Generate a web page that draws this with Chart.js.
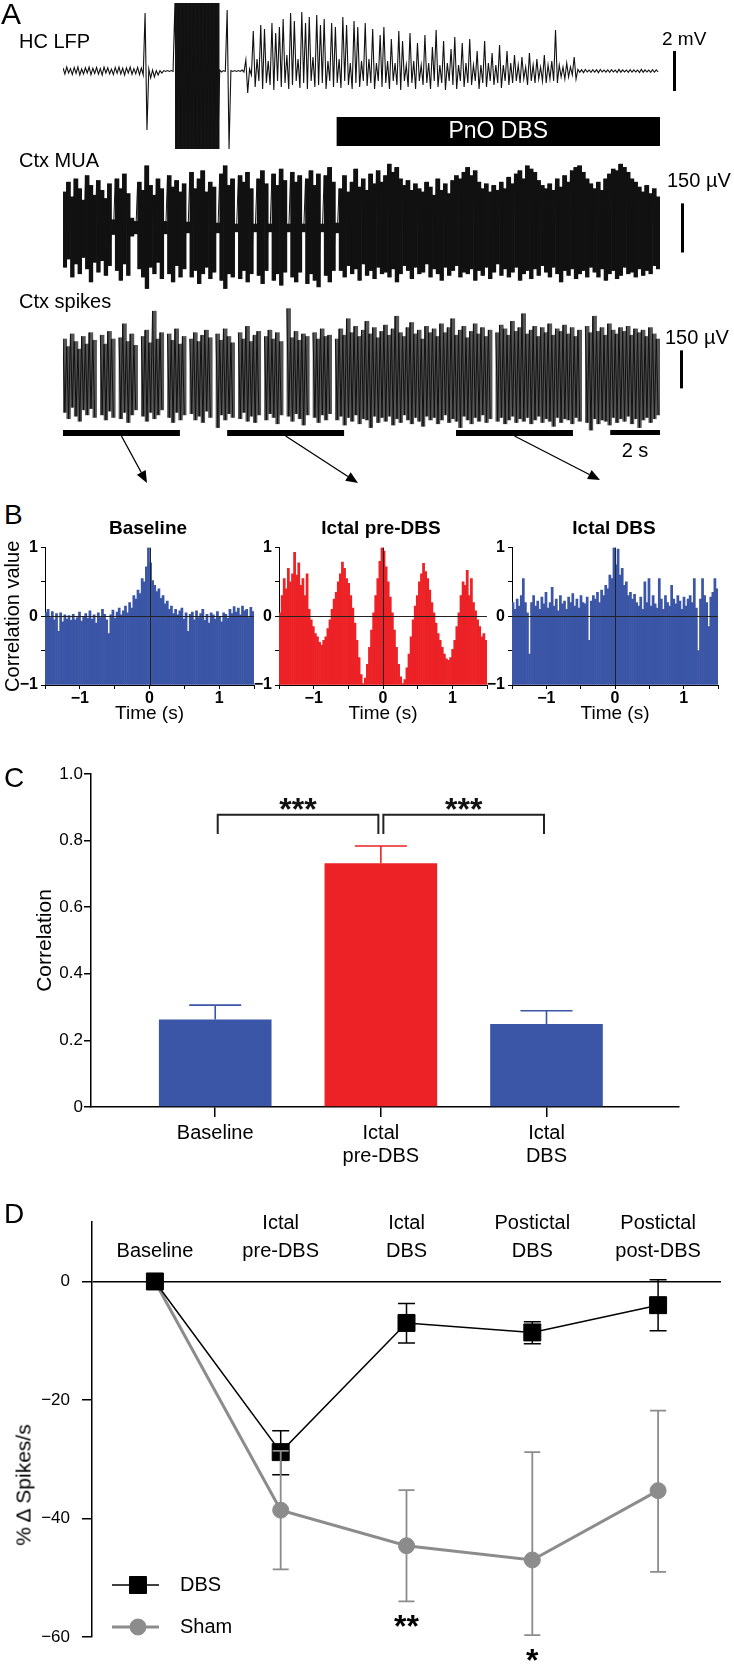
<!DOCTYPE html>
<html>
<head>
<meta charset="utf-8">
<script src="https://cdn.jsdelivr.net/npm/chart.js@4.4.0/dist/chart.umd.min.js"></script>
<style>
  html, body { margin: 0; padding: 0; background: #fff; }
  #fig { position: relative; width: 734px; height: 1664px; overflow: hidden; background: #fff;
         font-family: "Liberation Sans", Arial, sans-serif; color: #000; }
  #fig canvas { position: absolute; }
  .t { position: absolute; line-height: 1; white-space: nowrap; }
</style>
</head>
<body>
<div id="fig">
  <canvas id="lfp" width="734" height="152" style="left:0;top:0"></canvas>
  <canvas id="mua" width="734" height="150" style="left:0;top:150px"></canvas>
  <canvas id="spk" width="734" height="190" style="left:0;top:300px"></canvas>
  <canvas id="cc1" width="262" height="200" style="left:0;top:535px"></canvas>
  <canvas id="cc2" width="250" height="200" style="left:245px;top:535px"></canvas>
  <canvas id="cc3" width="250" height="200" style="left:478px;top:535px"></canvas>
  <canvas id="corr" width="734" height="420" style="left:0;top:760px"></canvas>
  <canvas id="rate" width="734" height="464" style="left:0;top:1200px"></canvas>
</div>
<script>
const FONT = '"Liberation Sans", Arial, sans-serif';
const NARROW = '"Liberation Sans Narrow", "Liberation Sans", Arial, sans-serif';

// ---------- A: example traces, envelope per 0.15 s bin ----------
const traceBin = 0.15;
const traceSeconds = 24;
const dbsPeriod = [11, 24];
const corrWindows = [[0, 4.7], [6.6, 11.3], [15.8, 20.5]];
const arrowTips = [[147, 483], [358, 483], [600, 480]];

// HC LFP, mV
const lfpHi = [0.15,0.2,0.12,0.18,0.2,0.1,0.16,0.2,0.14,0.18,0.12,0.2,0.16,0.1,0.18,0.2,0.14,0.16,0.2,0.12,0.18,0.15,
  2.9,
  0.1,0.05,0.02,0.02,0.02,0.02,0.02,
  3.4,3.4,3.4,3.4,3.4,3.4,3.4,3.4,3.4,3.4,3.4,3.4,
  0.05,0.02,
  3.05,
  0.02,0.02,0.02,0.05,
  0.55,
  0.1,
  2.0,0.6,2.3,2.1,0.5,2.4,1.9,2.2,
  2.6,0.8,2.9,2.5,0.6,2.95,2.4,2.7,0.7,2.8,
  2.3,2.6,0.5,2.4,2.2,0.6,2.7,2.3,0.4,2.5,2.2,0.5,2.4,0.6,2.1,
  0.4,1.8,2.2,0.5,1.6,0.4,2.0,1.5,0.3,1.9,0.5,1.4,0.3,
  1.8,0.4,1.2,2.05,0.3,1.5,0.4,1.1,1.7,0.3,1.4,0.4,
  1.6,0.3,1.0,0.3,1.5,0.4,0.9,0.3,1.3,0.3,1.0,0.4,0.8,
  0.3,0.7,0.2,0.9,0.3,0.6,0.2,0.8,0.3,0.5,
  2.05,
  0.3,0.2,0.4,0.2,
  0.7,
  0.08,0.06,0.08,0.05,0.07,0.06,0.08,0.05,0.06,0.07,0.05,0.08,0.06,0.05,0.07,0.06,0.05,0.08,0.06,0.05,0.07,0.06];
const lfpLo = [-0.15,-0.1,-0.18,-0.12,-0.2,-0.15,-0.1,-0.18,-0.12,-0.16,-0.2,-0.1,-0.14,-0.18,-0.12,-0.15,-0.2,-0.1,-0.16,-0.14,-0.18,-0.2,
  -2.95,
  -0.35,-0.3,-0.2,-0.1,-0.02,-0.02,-0.02,
  -3.9,-3.9,-3.9,-3.9,-3.9,-3.9,-3.9,-3.9,-3.9,-3.9,-3.9,-3.9,
  -0.05,-0.02,
  -3.9,
  -0.02,-0.02,-0.02,-0.05,
  -1.1,
  -0.2,
  -0.8,-0.5,-0.9,-0.6,-0.7,-0.95,-0.5,-0.8,
  -0.6,-0.9,-0.7,-0.5,-0.85,-0.6,-0.9,-0.5,-0.8,-0.7,
  -0.6,-0.9,-0.5,-0.8,-0.6,-0.85,-0.5,-0.7,-0.9,-0.6,-0.8,-0.5,-0.75,-0.6,-0.9,
  -0.5,-0.8,-0.6,-0.9,-0.5,-0.7,-0.95,-0.5,-0.8,-0.6,-0.9,-0.5,-0.7,
  -0.6,-0.9,-0.5,-0.8,-0.6,-0.95,-0.5,-0.7,-0.9,-0.5,-0.8,-0.6,
  -0.7,-0.5,-0.9,-0.6,-0.8,-0.5,-0.7,-0.6,-0.85,-0.5,-0.7,-0.6,-0.5,
  -0.6,-0.4,-0.7,-0.5,-0.6,-0.4,-0.5,-0.6,-0.4,-0.5,
  -0.6,
  -0.3,-0.4,-0.3,-0.2,
  -0.4,
  -0.06,-0.08,-0.05,-0.07,-0.06,-0.08,-0.05,-0.06,-0.07,-0.05,-0.08,-0.06,-0.05,-0.07,-0.06,-0.05,-0.08,-0.06,-0.05,-0.07,-0.06,-0.05];

// Ctx MUA, µV
const muaHi = [110,140,95,150,120,85,160,130,100,145,115,90,135,
  25, 150,120,165,105, 30,20, 140,115,190,130,100,150,120, 20,
  160,125,145,110,135, 18, 170,120,150,175,110,140,125, 15,
  165,190,130,150, 12, 160,140,170,120, 12, 150,175,135, 12,
  165,130,180,145, 12, 170,140,160, 12, 150,175,130,165, 12,
  160,185,140, 15,
  120,160,110,140,180,125,150,115,165,135,175,140,160,
  195,170,185,150,130,145,115,135,120,
  110,140,125,100,150,115,135,105,145,160,150,170,
  185,160,175,140,120,135,110,130,115,
  140,120,155,135,165,175,150,190,180,170,145,130,120,
  135,115,150,125,160,140,175,185,190,170,150,135,
  120,140,115,150,165,180,175,195,185,170,150,140,125,110,130,105,120,95];
const muaLo = [-120,-95,-150,-110,-140,-90,-125,-165,-105,-135,-100,-145,-115,
  -20, -130,-160,-110,-145, -25,-18, -125,-150,-185,-120,-140,-105,-155, -18,
  -140,-165,-115,-150,-125, -15, -150,-130,-170,-140,-120,-155,-135, -15,
  -160,-185,-140,-150, -12, -155,-130,-165,-140, -12, -145,-170,-130, -12,
  -160,-140,-175,-135, -12, -150,-165,-135, -12, -170,-140,-160,-180, -12,
  -145,-165,-130, -15,
  -130,-150,-115,-140,-125,-160,-110,-145,-130,-155,-120,-140,-135,
  -150,-125,-165,-140,-115,-130,-155,-120,-140,
  -135,-110,-150,-125,-140,-160,-120,-145,-130,-115,-150,-135,
  -140,-125,-160,-130,-145,-120,-155,-135,-110,
  -145,-125,-150,-135,-120,-160,-140,-130,-155,-125,-145,-115,-135,
  -150,-120,-140,-165,-130,-145,-125,-155,-140,-130,-150,-120,
  -135,-150,-125,-160,-140,-130,-155,-145,-120,-140,-135,-150,-125,-145,-130,-140,-115,-125];

// Ctx spikes, µV (null = no spike in bin)
const spkHi = [150,120,170,140,110,160,130,175,145, null,
  165,130,180,150, null, 155,210,140,170,125, null,
  160,185,135,260,150,175, null, 170,145,190,130,160, null,
  150,175,140,165,185,155, null, 170,145,190,160,135, null,
  175,150,200,140,165,180, null, 160,185,150,175,140, null,
  270,155,180,145,170,160, null, 175,150,190,160,165, null,
  150,190,165,230,175,200,160,185,220,170,195,155,180,
  205,165,190,240,175,160,195,215,170,185,150,200,175,
  190,160,210,175,195,230,165,185,200,155,180,210,170,
  195,160,185,null,175,205,190,165,220,180,195,250,170,
  185,200,160,195,175,210,165,190,180,205,170,195,160,
  185,null,200,175,240,180,195,165,210,185,170,195,
  180,200,165,190,175,185,160,195,170,150];
const spkLo = [-140,-165,-120,-155,-175,-130,-150,-125,-160, null,
  -150,-170,-135,-160, null, -165,-140,-180,-150,-130, null,
  -155,-175,-140,-165,-150,-130, null, -160,-180,-140,-170,-150, null,
  -145,-170,-155,-180,-135,-160, null, -200,-150,-170,-145,-160, null,
  -165,-140,-175,-155,-180,-150, null, -170,-145,-160,-185,-150, null,
  -155,-175,-145,-165,-190,-150, null, -160,-180,-150,-170,-145, null,
  -170,-155,-190,-160,-175,-150,-185,-165,-170,-200,-155,-180,-160,
  -175,-155,-190,-165,-180,-150,-170,-185,-160,-175,-195,-155,-170,
  -160,-185,-170,-150,-180,-165,-175,-200,-155,-170,-185,-160,-175,
  -150,-180,-165,null,-175,-160,-185,-170,-155,-180,-165,-175,-160,
  -185,-170,-155,-180,-165,-175,-195,-160,-180,-165,-170,-185,-160,
  -175,null,-180,-210,-165,-185,-170,-175,-190,-160,-180,-165,
  -175,-155,-185,-165,-200,-170,-160,-180,-165,-150];

// ---------- B: cross-correlograms, 0.03 s bins from -1.5 to 1.5 s ----------
const lagSeconds = 1.5;
const lagBin = 0.03;
const ccBaseline = [
  0.06,0.1,-0.02,0.07,-0.05,0.04,-0.22,0.05,-0.08,0.02,
  -0.04,0.01,-0.06,0.03,-0.05,-0.02,0.06,-0.07,0.0,0.04,
  -0.03,0.08,-0.04,0.02,-0.1,0.05,-0.02,0.1,0.03,-0.05,
  -0.25,0.02,0.09,-0.03,0.06,0.12,0.02,0.08,0.15,0.05,
  0.2,0.12,0.3,0.25,0.38,0.33,0.55,0.5,0.72,1.0,
  0.78,0.52,0.45,0.36,0.4,0.26,0.3,0.18,0.22,0.1,
  0.15,0.04,0.1,0.02,0.08,0.12,-0.04,0.05,-0.22,0.03,
  0.06,-0.05,0.08,-0.02,0.04,0.1,-0.06,0.03,-0.1,0.05,
  0.02,-0.04,0.07,0.0,-0.08,0.05,0.03,-0.03,0.1,0.04,
  0.14,0.06,0.12,0.02,0.15,0.08,0.1,-0.02,0.13,0.07];
const ccIctalPre = [
  0.05,0.3,0.55,0.4,0.7,0.5,0.62,0.93,0.6,0.78,
  0.45,0.55,0.3,0.62,0.1,-0.05,-0.15,-0.25,-0.3,-0.38,
  -0.42,-0.35,-0.3,-0.18,-0.05,0.1,0.25,0.35,0.5,0.62,
  0.79,0.7,0.55,0.48,0.3,0.12,-0.1,-0.35,-0.6,-0.85,
  -0.98,-0.9,-0.7,-0.45,-0.2,0.05,0.3,0.55,0.8,1.0,
  0.95,0.72,0.5,0.28,0.05,-0.2,-0.45,-0.7,-0.88,-0.98,
  -0.92,-0.75,-0.55,-0.3,-0.05,0.15,0.3,0.5,0.62,0.77,
  0.65,0.55,0.38,0.2,0.05,-0.1,-0.25,-0.35,-0.45,-0.55,
  -0.62,-0.64,-0.6,-0.48,-0.35,-0.15,0.05,0.3,0.5,0.45,
  0.67,0.3,0.55,0.2,0.08,-0.05,-0.15,-0.3,-0.25,-0.35];
const ccIctalDbs = [
  0.2,0.1,0.25,0.15,0.3,0.55,0.2,0.05,-0.55,0.2,
  0.3,0.15,0.22,0.1,0.28,0.18,0.35,0.12,0.2,0.42,
  0.15,0.25,0.08,0.3,0.18,0.22,0.1,0.28,0.2,0.33,
  0.15,0.25,0.12,0.3,0.2,0.18,0.28,-0.35,0.22,0.3,
  0.25,0.35,0.2,0.38,0.3,0.45,0.4,0.6,0.55,1.0,
  0.75,0.98,0.6,0.7,0.45,0.5,0.3,0.35,0.25,0.32,
  0.2,0.15,0.28,0.1,0.5,0.2,0.55,0.15,0.3,0.18,
  0.12,0.55,0.25,0.1,0.3,0.2,0.15,0.45,0.25,0.18,
  0.3,0.22,0.1,0.28,0.15,0.25,0.3,0.2,0.55,0.12,
  -0.5,0.25,0.55,0.3,0.2,-0.15,0.28,0.35,0.55,0.4];

// ---------- C: mean correlation ----------
const corrLabels = ['Baseline', ['Ictal', 'pre-DBS'], ['Ictal', 'DBS']];
const corrMean = [0.263, 0.732, 0.249];
const corrSem = [0.043, 0.052, 0.040];
const corrSig = [[0, 1, '***'], [1, 2, '***']];

// ---------- D: % change in spike rate ----------
const phaseLabels = ['Baseline', ['Ictal', 'pre-DBS'], ['Ictal', 'DBS'], ['Postictal', 'DBS'], ['Postictal', 'post-DBS']];
const dbsMean = [0, -28.8, -7.0, -8.6, -4.0];
const dbsLow = [0, -32.6, -10.4, -10.5, -8.3];
const dbsHigh = [0, -25.2, -3.7, -6.8, 0.3];
const shamMean = [0, -38.6, -44.6, -47.0, -35.3];
const shamLow = [0, -48.6, -54.0, -59.7, -49.0];
const shamHigh = [0, -28.6, -35.2, -28.8, -21.8];
const shamSig = ['', '', '**', '*', ''];

const BLUE = '#3b56a6';
const RED = '#ec2227';
const GRAY = '#8c8c8c';

Chart.defaults.font.family = FONT;
Chart.defaults.color = '#000';
Chart.defaults.animation = false;

const fig = document.getElementById('fig');
function addText(txt, x, y, size, opt = {}) {
  const d = document.createElement('div');
  d.className = 't';
  d.textContent = txt;
  d.style.left = x + 'px';
  d.style.top = y + 'px';
  d.style.fontSize = size + 'px';
  if (opt.bold) d.style.fontWeight = 'bold';
  const ax = opt.center ? '-50%' : '0';
  d.style.transform = 'translate(' + ax + ', -50%)' + (opt.rotate ? ' rotate(-90deg)' : '');
  fig.appendChild(d);
}
const fmtNum = v => (v < 0 ? '\u2212' + Math.abs(v) : String(v));
const isWhole = v => Math.abs(v - Math.round(v)) < 1e-9;

// zig-zag between the upper and lower value of each bin
function zigzag(hi, lo) {
  const pts = [];
  hi.forEach((h, i) => {
    pts.push({ x: i * traceBin, y: h });
    pts.push({ x: (i + 0.5) * traceBin, y: lo[i] });
  });
  return pts;
}
// stepped outline of one side of the envelope, only for the bins kept by keep()
function envelope(vals, keep) {
  const pts = [];
  vals.forEach((v, i) => {
    const y = keep(i) ? v : null;
    pts.push({ x: i * traceBin, y: y });
    pts.push({ x: (i + 1) * traceBin, y: y });
  });
  return pts;
}
// one floating bar per bin, lo..hi
function binBars(hi, lo) {
  const out = [];
  hi.forEach((h, i) => {
    if (h !== null && lo[i] !== null) out.push({ x: (i + 0.5) * traceBin, y: [lo[i], h] });
  });
  return out;
}

function drawArrow(ctx, x0, y0, x1, y1) {
  const ang = Math.atan2(y1 - y0, x1 - x0), len = 12, w = 5;
  const bx = x1 - len * Math.cos(ang), by = y1 - len * Math.sin(ang);
  ctx.beginPath(); ctx.moveTo(x0, y0); ctx.lineTo(bx, by); ctx.stroke();
  ctx.beginPath(); ctx.moveTo(x1, y1);
  ctx.lineTo(bx + w * Math.sin(ang), by - w * Math.cos(ang));
  ctx.lineTo(bx - w * Math.sin(ang), by + w * Math.cos(ang));
  ctx.closePath(); ctx.fill();
}

function vBar(ctx, x, y0, y1) {
  ctx.fillRect(x, Math.min(y0, y1), 3, Math.abs(y1 - y0));
}

const lfpExtras = {
  id: 'lfpExtras',
  afterDraw(chart) {
    const { ctx, chartArea: a, scales: { x, y } } = chart;
    ctx.save();
    ctx.fillStyle = '#000';
    vBar(ctx, a.right + 13, y.getPixelForValue(1), y.getPixelForValue(-1));   // 2 mV
    const x0 = x.getPixelForValue(dbsPeriod[0]), x1 = x.getPixelForValue(dbsPeriod[1]);
    ctx.fillRect(x0, 117, x1 - x0, 29);
    ctx.fillStyle = '#fff';
    ctx.font = '23px ' + FONT;
    ctx.textAlign = 'center';
    ctx.textBaseline = 'middle';
    ctx.fillText('PnO DBS', (x0 + x1) / 2, 132);
    ctx.restore();
  }
};

const muaExtras = {
  id: 'muaExtras',
  afterDraw(chart) {
    const { ctx, chartArea: a, scales: { y } } = chart;
    ctx.save();
    ctx.fillStyle = '#000';
    vBar(ctx, a.right + 21, y.getPixelForValue(75), y.getPixelForValue(-75));   // 150 µV
    ctx.restore();
  }
};

const spkExtras = {
  id: 'spkExtras',
  afterDraw(chart) {
    const { ctx, chartArea: a, scales: { x, y } } = chart;
    ctx.save();
    ctx.fillStyle = '#000';
    ctx.strokeStyle = '#000';
    ctx.lineWidth = 1.3;
    vBar(ctx, a.right + 20, y.getPixelForValue(105), y.getPixelForValue(-45));   // 150 µV
    const barY = a.bottom - 10;
    corrWindows.forEach(([t0, t1], k) => {
      const x0 = x.getPixelForValue(t0), x1 = x.getPixelForValue(t1);
      ctx.fillRect(x0, barY, x1 - x0, 6);
      drawArrow(ctx, (x0 + x1) / 2, barY + 6, arrowTips[k][0], arrowTips[k][1] - 300);
    });
    const s0 = x.getPixelForValue(traceSeconds - 2), s1 = x.getPixelForValue(traceSeconds);
    ctx.fillRect(s0, barY, s1 - s0, 5);   // 2 s
    ctx.restore();
  }
};

function traceChart(id, hi, lo, yMin, yMax, opt, extra) {
  const datasets = [];
  if (opt.lineWidth) {
    datasets.push({
      type: 'line',
      data: zigzag(hi, lo),
      borderColor: '#111',
      borderWidth: opt.lineWidth,
      pointRadius: 0,
      tension: 0,
      spanGaps: false,
      order: 0
    });
  }
  if (opt.bandColor) {
    datasets.push({
      type: 'bar',
      data: binBars(hi, lo),
      backgroundColor: opt.bandColor,
      barPercentage: 1,
      categoryPercentage: 1,
      borderWidth: 0,
      order: 1
    });
  }
  if (opt.solidAbove) {
    const keep = i => hi[i] - lo[i] > opt.solidAbove;
    datasets.push({ type: 'line', data: envelope(hi, keep), borderWidth: 0, pointRadius: 0, fill: '+1', backgroundColor: '#141414', spanGaps: false, order: 2 });
    datasets.push({ type: 'line', data: envelope(lo, keep), borderWidth: 0, pointRadius: 0, fill: false, spanGaps: false, order: 3 });
  }
  return new Chart(document.getElementById(id), {
    type: 'line',
    data: { datasets },
    options: {
      responsive: false,
      events: [],
      layout: { padding: { left: 63, right: 74, top: 0, bottom: opt.padBottom || 0 } },
      plugins: { legend: { display: false }, tooltip: { enabled: false } },
      scales: {
        x: { type: 'linear', display: false, offset: false, min: 0, max: traceSeconds },
        y: { display: false, min: yMin, max: yMax }
      }
    },
    plugins: [extra]
  });
}

traceChart('lfp', lfpHi, lfpLo, -4.05, 3.55, { lineWidth: 1.1, solidAbove: 7 }, lfpExtras);
traceChart('mua', muaHi, muaLo, -220, 238, { bandColor: '#111', lineWidth: 1 }, muaExtras);
traceChart('spk', spkHi, spkLo, -249, 304, { bandColor: '#555', lineWidth: 1, padBottom: 50 }, spkExtras);

// ---------- B ----------
const zeroCross = {
  id: 'zeroCross',
  afterDatasetsDraw(chart) {
    const { ctx, chartArea: a, scales: { x, y } } = chart;
    ctx.save();
    ctx.strokeStyle = '#222';
    ctx.lineWidth = 1;
    ctx.beginPath();
    const y0 = Math.round(y.getPixelForValue(0)) + 0.5;
    ctx.moveTo(a.left, y0); ctx.lineTo(a.right, y0);
    const x0 = Math.round(x.getPixelForValue(0)) + 0.5;
    ctx.moveTo(x0, a.top); ctx.lineTo(x0, a.bottom);
    ctx.stroke();
    ctx.restore();
  }
};

function ccChart(id, values, color, axisWidth, rightPad, showTitle) {
  return new Chart(document.getElementById(id), {
    type: 'bar',
    data: {
      datasets: [{
        data: values.map((v, i) => ({ x: -lagSeconds + (i + 0.5) * lagBin, y: v })),
        backgroundColor: color,
        base: -1,
        barPercentage: 1,
        categoryPercentage: 1,
        borderWidth: 0
      }]
    },
    options: {
      responsive: false,
      events: [],
      layout: { padding: { top: 12, right: rightPad, left: 0, bottom: 0 } },
      plugins: { legend: { display: false }, tooltip: { enabled: false } },
      scales: {
        x: {
          type: 'linear', offset: false, min: -lagSeconds, max: lagSeconds,
          border: { display: true, color: '#000', width: 1 },
          grid: { drawOnChartArea: false, offset: false, tickLength: 4, color: '#000' },
          ticks: {
            stepSize: 0.5, autoSkip: false, maxRotation: 0, padding: 0, color: '#000',
            font: { family: FONT, size: 16, weight: 'bold' },
            callback: v => (isWhole(v) ? fmtNum(Math.round(v)) : '')
          },
          title: { display: true, text: 'Time (s)', color: '#000', font: { family: FONT, size: 19 }, padding: { top: 0, bottom: 10 } },
          afterFit: s => { s.height = 50; }
        },
        y: {
          min: -1, max: 1,
          border: { display: true, color: '#000', width: 1 },
          grid: { drawOnChartArea: false, tickLength: 4, color: '#000' },
          ticks: {
            stepSize: 0.5, padding: 3, color: '#000',
            font: { family: FONT, size: 16, weight: 'bold' },
            callback: v => (isWhole(v) ? fmtNum(Math.round(v)) : '')
          },
          title: { display: showTitle, text: 'Correlation value', color: '#000', font: { family: FONT, size: 20 }, padding: { top: 1, bottom: 0 } },
          afterFit: s => { s.width = axisWidth; }
        }
      }
    },
    plugins: [zeroCross]
  });
}

ccChart('cc1', ccBaseline, BLUE, 45, 8, true);
ccChart('cc2', ccIctalPre, RED, 34, 8, false);
ccChart('cc3', ccIctalDbs, BLUE, 34, 10, false);

// ---------- C ----------
const corrColors = [BLUE, RED, BLUE];
const corrExtras = {
  id: 'corrExtras',
  afterDatasetsDraw(chart) {
    const { ctx, scales: { x, y } } = chart;
    ctx.save();
    ctx.lineWidth = 1.6;
    corrMean.forEach((m, i) => {
      const px = x.getPixelForValue(i), yb = y.getPixelForValue(m), yt = y.getPixelForValue(m + corrSem[i]);
      ctx.strokeStyle = corrColors[i];
      ctx.beginPath();
      ctx.moveTo(px, yb); ctx.lineTo(px, yt);
      ctx.moveTo(px - 26, yt); ctx.lineTo(px + 26, yt);
      ctx.stroke();
    });
    ctx.strokeStyle = '#222';
    ctx.lineWidth = 2;
    ctx.fillStyle = '#111';
    ctx.font = 'bold 32px ' + FONT;
    ctx.textAlign = 'center';
    ctx.textBaseline = 'alphabetic';
    const top = y.getPixelForValue(0.878), leg = y.getPixelForValue(0.82);
    corrSig.forEach(([a, b, lab]) => {
      const xa = x.getPixelForValue(a) + 2.5, xb = x.getPixelForValue(b) - 2.5;
      ctx.beginPath();
      ctx.moveTo(xa, leg); ctx.lineTo(xa, top); ctx.lineTo(xb, top); ctx.lineTo(xb, leg);
      ctx.stroke();
      ctx.fillText(lab, (xa + xb) / 2, top - 13 + 18);
    });
    ctx.restore();
  }
};

new Chart(document.getElementById('corr'), {
  type: 'bar',
  data: {
    datasets: [{
      data: corrMean.map((v, i) => ({ x: i, y: v })),
      backgroundColor: corrColors,
      barPercentage: 0.68,
      categoryPercentage: 1,
      borderWidth: 0
    }]
  },
  options: {
    responsive: false,
    events: [],
    layout: { padding: { top: 14, right: 55, left: 0, bottom: 0 } },
    plugins: { legend: { display: false }, tooltip: { enabled: false } },
    scales: {
      x: {
        type: 'linear', offset: false, min: -0.75, max: 2.8,
        border: { display: true, color: '#000', width: 1.5 },
        grid: { drawOnChartArea: false, offset: false, tickLength: 10, color: '#000', lineWidth: 1.5 },
        ticks: {
          stepSize: 1, includeBounds: false, autoSkip: false, maxRotation: 0, padding: 5, color: '#000',
          font: { family: FONT, size: 20, lineHeight: 1.15 },
          callback: v => (isWhole(v) && corrLabels[Math.round(v)] !== undefined ? corrLabels[Math.round(v)] : '')
        },
        afterFit: s => { s.height = 73; }
      },
      y: {
        min: 0, max: 1,
        border: { display: true, color: '#000', width: 1.5 },
        grid: { drawOnChartArea: false, tickLength: 7, color: '#000', lineWidth: 1.5 },
        ticks: {
          stepSize: 0.2, padding: 1, color: '#000',
          font: { family: NARROW, size: 17 },
          callback: v => (Math.abs(v) < 1e-9 ? '0' : v.toFixed(1))
        },
        title: { display: true, text: 'Correlation', color: '#000', font: { family: FONT, size: 21 }, padding: { top: 33, bottom: 0 } },
        afterFit: s => { s.width = 91; }
      }
    }
  },
  plugins: [corrExtras]
});

// ---------- D ----------
const rateExtras = {
  id: 'rateExtras',
  afterDatasetsDraw(chart) {
    const { ctx, scales: { x, y } } = chart;
    ctx.save();
    chart.data.datasets.forEach(ds => {
      ctx.strokeStyle = ds.errColor;
      ctx.lineWidth = ds.errWidth;
      ds.low.forEach((lo, i) => {
        const hi = ds.high[i];
        if (lo === hi) return;
        const px = x.getPixelForValue(i), y0 = y.getPixelForValue(lo), y1 = y.getPixelForValue(hi);
        const c = ds.capWidth / 2;
        ctx.beginPath();
        ctx.moveTo(px, y0); ctx.lineTo(px, y1);
        ctx.moveTo(px - c, y0); ctx.lineTo(px + c, y0);
        ctx.moveTo(px - c, y1); ctx.lineTo(px + c, y1);
        ctx.stroke();
      });
    });
    ctx.restore();
  },
  afterDraw(chart) {
    const { ctx, chartArea: a, scales: { x, y } } = chart;
    ctx.save();
    // phase labels along the top
    ctx.fillStyle = '#000';
    ctx.font = '20px ' + FONT;
    ctx.textAlign = 'center';
    ctx.textBaseline = 'middle';
    const lastY = y.getPixelForValue(0) - 30;
    phaseLabels.forEach((lab, i) => {
      const lines = Array.isArray(lab) ? lab : [lab];
      const px = x.getPixelForValue(i);
      lines.forEach((ln, k) => ctx.fillText(ln, px, lastY - (lines.length - 1 - k) * 28));
    });
    // significance
    ctx.font = 'bold 32px ' + FONT;
    ctx.textBaseline = 'alphabetic';
    shamSig.forEach((s, i) => {
      if (!s) return;
      ctx.fillText(s, x.getPixelForValue(i), y.getPixelForValue(shamLow[i]) + 18 + 18);
    });
    // legend
    chart.data.datasets.forEach((ds, k) => {
      const ly = a.bottom - 52 + 42 * k;
      ctx.strokeStyle = ds.borderColor;
      ctx.lineWidth = ds.borderWidth;
      ctx.beginPath(); ctx.moveTo(a.left + 20, ly); ctx.lineTo(a.left + 67, ly); ctx.stroke();
      ctx.fillStyle = ds.backgroundColor;
      ctx.lineWidth = 1;
      Chart.helpers.drawPoint(ctx, { pointStyle: ds.pointStyle, radius: ds.pointRadius, borderWidth: 1, rotation: 0 }, a.left + 46, ly);
      ctx.fillStyle = '#000';
      ctx.font = '20px ' + FONT;
      ctx.textAlign = 'left';
      ctx.textBaseline = 'middle';
      ctx.fillText(ds.label, a.left + 88, ly);
    });
    ctx.restore();
  }
};

new Chart(document.getElementById('rate'), {
  type: 'line',
  data: {
    labels: phaseLabels,
    datasets: [
      {
        label: 'DBS', data: dbsMean, low: dbsLow, high: dbsHigh,
        borderColor: '#000', backgroundColor: '#000', borderWidth: 1.5,
        pointStyle: 'rect', pointRadius: 12, pointBorderWidth: 1, pointBorderColor: '#000', pointBackgroundColor: '#000',
        tension: 0, order: 1, errColor: '#000', errWidth: 1.5, capWidth: 17
      },
      {
        label: 'Sham', data: shamMean, low: shamLow, high: shamHigh,
        borderColor: GRAY, backgroundColor: GRAY, borderWidth: 3,
        pointStyle: 'circle', pointRadius: 8, pointBorderWidth: 1, pointBorderColor: GRAY, pointBackgroundColor: GRAY,
        tension: 0, order: 2, errColor: GRAY, errWidth: 1.8, capWidth: 16
      }
    ]
  },
  options: {
    responsive: false,
    events: [],
    layout: { padding: { top: 17, right: 13, left: 0, bottom: 27 } },
    plugins: { legend: { display: false }, tooltip: { enabled: false } },
    scales: {
      x: { type: 'category', display: false, offset: true },
      y: {
        min: -60, max: 10,
        border: { display: true, color: '#000', width: 1.5 },
        grid: {
          drawOnChartArea: true,
          color: c => (c.tick && c.tick.value === 0 ? '#000' : 'rgba(0,0,0,0)'),
          lineWidth: 1.5, tickColor: '#000', tickLength: 10
        },
        ticks: {
          stepSize: 20, includeBounds: false, padding: 12, color: '#000',
          font: { family: NARROW, size: 17 },
          callback: v => fmtNum(v)
        },
        afterFit: s => { s.width = 92; }
      }
    }
  },
  plugins: [rateExtras]
});

// ---------- text ----------
addText('A', 1, 14, 30);
addText('HC LFP', 19, 41, 20);
addText('2 mV', 662, 38, 19);
addText('Ctx MUA', 19, 160, 20);
addText('150 \u00b5V', 667, 180, 20);
addText('Ctx spikes', 19, 301, 20);
addText('150 \u00b5V', 665, 337, 20);
addText('2 s', 635, 450, 20, { center: true });
addText('B', 4, 515, 28);
addText('Baseline', 148, 527, 19, { center: true, bold: true });
addText('Ictal pre-DBS', 381, 527, 19, { center: true, bold: true });
addText('Ictal DBS', 614, 527, 19, { center: true, bold: true });
addText('C', 4, 778, 28);
addText('D', 4, 1214, 28);
addText('% \u0394 Spikes/s', 23, 1485, 21, { center: true, rotate: true });
</script>
</body>
</html>
